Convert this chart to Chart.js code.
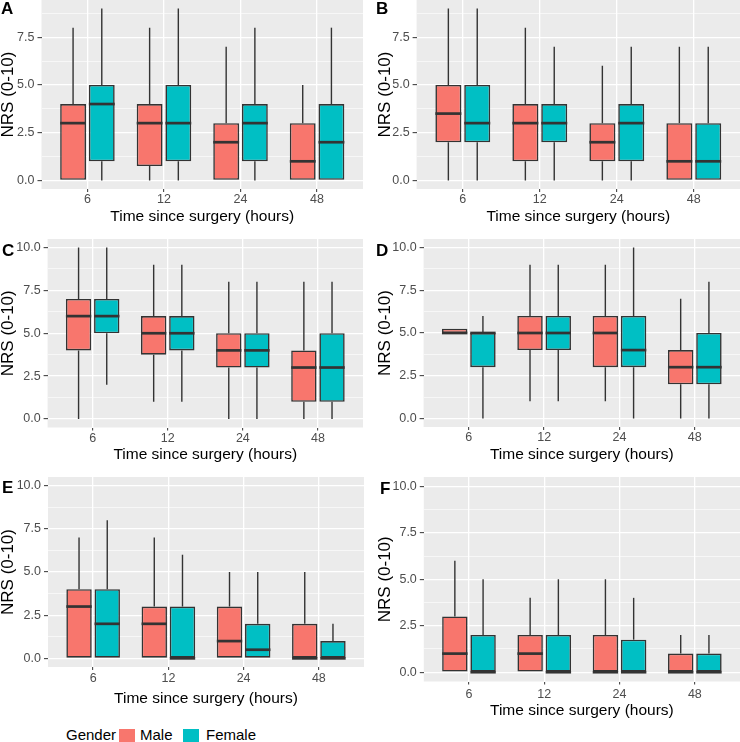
<!DOCTYPE html>
<html>
<head>
<meta charset="utf-8">
<script src="https://cdn.jsdelivr.net/npm/chart.js@4.4.1/dist/chart.umd.min.js"></script>
<style>
  html, body { margin:0; padding:0; background:#fff; }
  body { width:740px; height:742px; overflow:hidden; position:relative; font-family:"Liberation Sans", Arial, sans-serif; }
  canvas { position:absolute; }
  .letter { position:absolute; font-weight:bold; font-size:17px; line-height:17px; color:#000; }
  .leg { position:absolute; font-size:15px; line-height:15px; color:#000; white-space:nowrap; }
  .key { position:absolute; width:16px; height:17px; }
</style>
</head>
<body>
<script>
// ---- data ----
const categories = ['6', '12', '24', '48'];
const genders = ['Male', 'Female'];
// each entry: [min, q1, median, q3, max] per time point
const A_male   = [[0,0,3,4,8],[0,0.75,3,4,8],[0,0,2,3,7],[0,0,1,3,5]];
const A_female = [[0,1,4,5,9],[0,1,3,5,9],[0,1,3,4,8],[0,0,2,4,8]];
const B_male   = [[0,2,3.5,5,9],[0,1,3,4,8],[0,1,2,3,6],[0,0,1,3,7]];
const B_female = [[0,2,3,5,9],[0,2,3,4,7],[0,1,3,4,7],[0,0,1,3,7]];
const C_male   = [[0,4,6,7,10],[1,3.75,5,6,9],[0,3,4,5,8],[0,1,3,4,8]];
const C_female = [[2,5,6,7,10],[1,4,5,6,9],[0,3,4,5,8],[0,1,3,5,8]];
const D_male   = [[5,5,5,5.25,5.25],[1,4,5,6,9],[1,3,5,6,9],[0,2,3,4,7]];
const D_female = [[0,3,5,5,6],[1,4,5,6,9],[0,3,4,6,10],[0,2,3,5,8]];
const E_male   = [[0,0,3,4,7],[0,0,2,3,7],[0,0,1,3,5],[0,0,0,2,5]];
const E_female = [[0,0,2,4,8],[0,0,0,3,6],[0,0,0.5,2,5],[0,0,0,1,2]];
const F_male   = [[0,0,1,3,6],[0,0,1,2,4],[0,0,0,2,5],[0,0,0,1,2]];
const F_female = [[0,0,0,2,5],[0,0,0,2,5],[0,0,0,1.75,4],[0,0,0,1,2]];
const yMajor9  = [0, 2.5, 5, 7.5];
const yMajor10 = [0, 2.5, 5, 7.5, 10];
const xTitle = 'Time since surgery (hours)';
const yTitle = 'NRS (0-10)';

// ---- styling / layout ----
const FILLS = ['#F8766D', '#00BFC4'];
const FONT = '"Liberation Sans", Arial, sans-serif';
const panels = [
  {letter:'A', stats:[A_male, A_female], majors:yMajor9,  ylim:[-0.45, 9.45], left:0,   top:0,   width:363, height:230, yW:41.5, xH:41,  tFromBottom:13,   tpad:0.5, lx:1,   ly:0},
  {letter:'B', stats:[B_male, B_female], majors:yMajor9,  ylim:[-0.45, 9.45], left:377, top:0,   width:363, height:230, yW:39.6, xH:41,  tFromBottom:13,   tpad:0.5, lx:376, ly:0},
  {letter:'C', stats:[C_male, C_female], majors:yMajor10, ylim:[-0.5, 10.5], left:0,   top:239, width:363, height:231, yW:47.6, xH:42.5,tFromBottom:15,   tpad:0.5, lx:2,   ly:242},
  {letter:'D', stats:[D_male, D_female], majors:yMajor10, ylim:[-0.5, 10.5], left:377, top:239, width:363, height:231, yW:46.6, xH:43,  tFromBottom:15,   tpad:0.5, lx:376, ly:242},
  {letter:'E', stats:[E_male, E_female], majors:yMajor10, ylim:[-0.5, 10.5], left:0,   top:477, width:364, height:238, yW:48,   xH:48,  tFromBottom:16,   tpad:1.5, lx:2,   ly:479},
  {letter:'F', stats:[F_male, F_female], majors:yMajor10, ylim:[-0.5, 10.5], left:377, top:477, width:363, height:248, yW:46.8, xH:43.5,tFromBottom:14.5, tpad:3,   lx:380, ly:480},
];

const boxPlugin = {
  id: 'boxplot',
  beforeDraw(chart) {
    const {ctx, chartArea: a} = chart;
    ctx.save();
    ctx.fillStyle = '#EBEBEB';
    ctx.fillRect(a.left, a.top, a.right - a.left, a.bottom - a.top);
    ctx.restore();
  },
  beforeDatasetsDraw(chart) {
    const {ctx} = chart; const ys = chart.scales.y;
    ctx.save();
    ctx.strokeStyle = '#333333'; ctx.lineWidth = 1.4;
    chart.data.datasets.forEach((ds, di) => {
      chart.getDatasetMeta(di).data.forEach((bar, i) => {
        const s = ds.stats[i];
        ctx.beginPath();
        ctx.moveTo(bar.x, ys.getPixelForValue(s[3])); ctx.lineTo(bar.x, ys.getPixelForValue(s[4]));
        ctx.moveTo(bar.x, ys.getPixelForValue(s[1])); ctx.lineTo(bar.x, ys.getPixelForValue(s[0]));
        ctx.stroke();
      });
    });
    ctx.restore();
  },
  afterDatasetsDraw(chart) {
    const {ctx} = chart; const ys = chart.scales.y;
    ctx.save();
    ctx.strokeStyle = '#333333'; ctx.lineWidth = 2.7;
    chart.data.datasets.forEach((ds, di) => {
      chart.getDatasetMeta(di).data.forEach((bar, i) => {
        const s = ds.stats[i];
        const y = ys.getPixelForValue(s[2]);
        ctx.beginPath();
        ctx.moveTo(bar.x - bar.width / 2, y); ctx.lineTo(bar.x + bar.width / 2, y);
        ctx.stroke();
      });
    });
    ctx.restore();
  }
};

function isMajor(v) { return Math.abs(v / 2.5 - Math.round(v / 2.5)) < 1e-6; }

panels.forEach(p => {
  const cv = document.createElement('canvas');
  cv.width = p.width; cv.height = p.height;
  cv.style.left = p.left + 'px'; cv.style.top = p.top + 'px';
  cv.style.width = p.width + 'px'; cv.style.height = p.height + 'px';
  document.body.appendChild(cv);

  const minors = p.majors.map(v => v + 1.25).filter(v => v <= p.ylim[1]);
  const yTickVals = p.majors.concat(minors).sort((a, b) => a - b);

  new Chart(cv, {
    type: 'bar',
    data: {
      datasets: genders.map((g, gi) => ({
        label: g,
        data: p.stats[gi].map((s, i) => ({x: i + 1, y: [s[1], s[3]]})),
        stats: p.stats[gi],
        backgroundColor: FILLS[gi],
        borderColor: '#333333',
        borderWidth: 1.6,
        borderSkipped: false,
        categoryPercentage: 0.75,
        barPercentage: 0.9
      }))
    },
    options: {
      responsive: false, animation: false, devicePixelRatio: 1,
      layout: { padding: 0 },
      plugins: { legend: { display: false }, tooltip: { enabled: false } },
      scales: {
        x: {
          type: 'linear', min: 0.4, max: 4.6, offset: false,
          afterBuildTicks: s => { s.ticks = categories.map((c, i) => ({ value: i + 1 })); },
          afterFit: s => { s.height = p.xH; s.paddingLeft = 0; s.paddingRight = 0; },
          grid: { offset: false, color: '#FFFFFF', lineWidth: 1.3, tickColor: '#333333', tickLength: 3, tickWidth: 1 },
          border: { display: false },
          ticks: { autoSkip: false, maxRotation: 0, padding: p.tpad, color: '#4D4D4D',
                   font: { family: FONT, size: 12.5 },
                   callback: v => categories[Math.round(v) - 1] },
          title: { display: true, text: xTitle, color: '#000',
                   font: { family: FONT, size: 15.5, lineHeight: 1.2 },
                   padding: { top: 0, bottom: p.tFromBottom - 9.3 } }
        },
        y: {
          type: 'linear', min: p.ylim[0], max: p.ylim[1],
          afterBuildTicks: s => { s.ticks = yTickVals.map(v => ({ value: v })); },
          afterFit: s => { s.width = p.yW; s.paddingTop = 0; s.paddingBottom = 0; },
          grid: { color: '#FFFFFF',
                  lineWidth: c => (c.tick && isMajor(c.tick.value)) ? 1.3 : 0.6,
                  tickColor: c => (c.tick && isMajor(c.tick.value)) ? '#333333' : 'rgba(0,0,0,0)',
                  tickLength: 4, tickWidth: 1 },
          border: { display: false },
          ticks: { autoSkip: false, padding: 3, color: '#4D4D4D',
                   font: { family: FONT, size: 12.5 },
                   callback: v => isMajor(v) ? v.toFixed(1) : '' },
          title: { display: true, text: yTitle, color: '#000',
                   font: { family: FONT, size: 17, lineHeight: 1 },
                   padding: { top: 0, bottom: 0 } }
        }
      }
    },
    plugins: [boxPlugin]
  });

  const L = document.createElement('div');
  L.className = 'letter'; L.textContent = p.letter;
  L.style.left = p.lx + 'px'; L.style.top = p.ly + 'px';
  document.body.appendChild(L);
});

// legend (real text)
function addLeg(text, x) {
  const d = document.createElement('div'); d.className = 'leg'; d.textContent = text;
  d.style.left = x + 'px'; d.style.top = '727px'; document.body.appendChild(d);
}
function addKey(color, x) {
  const d = document.createElement('div'); d.className = 'key'; d.style.background = color;
  d.style.left = x + 'px'; d.style.top = '729px'; document.body.appendChild(d);
}
addLeg('Gender', 66);
addKey(FILLS[0], 119); addLeg(genders[0], 140);
addKey(FILLS[1], 183); addLeg(genders[1], 206);
</script>
</body>
</html>
